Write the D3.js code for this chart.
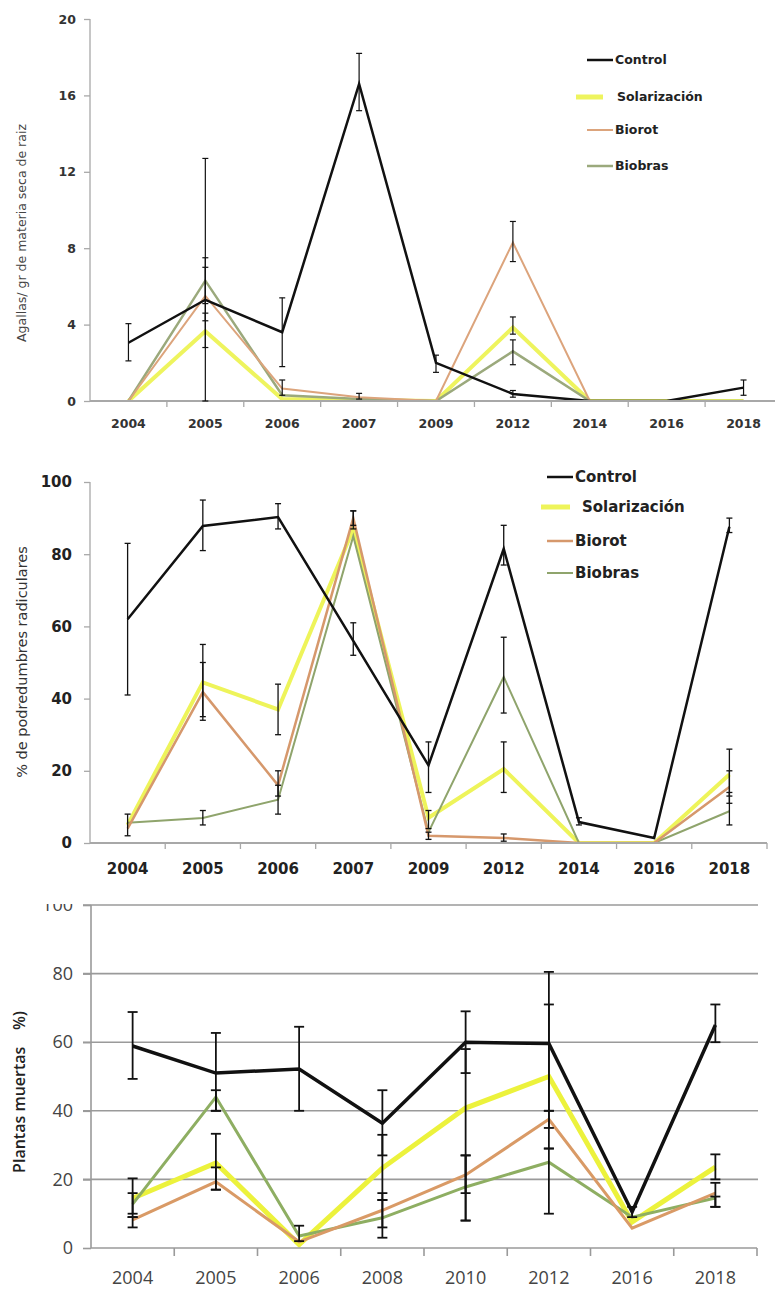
<!DOCTYPE html>
<html>
<head>
<meta charset="utf-8">
<script src="https://cdn.jsdelivr.net/npm/d3@7"></script>
<style>
  html, body { margin: 0; padding: 0; background: #fff; }
  svg { display: block; }
  text { white-space: pre; }
</style>
</head>
<body>
<div id="chart"></div>
<script>
// ---------- Panel A: galls per gram of dry root matter ----------
const yearsA = ["2004", "2005", "2006", "2007", "2009", "2012", "2014", "2016", "2018"];
const controlA = [3.05, 5.3, 3.6, 16.6, 2.0, 0.37, 0, 0, 0.7];
const solA     = [0, 3.65, 0.1, 0.05, 0, 3.85, 0, 0, 0];
const biorotA  = [0, 5.5, 0.65, 0.2, 0, 8.3, 0, 0, 0];
const biobrasA = [0, 6.3, 0.3, 0.1, 0, 2.6, 0, 0, 0];
const controlA_lo = [2.1, 0, 1.8, 15.2, 1.5, 0.2, null, null, 0.3];
const controlA_hi = [4.05, 12.7, 5.4, 18.2, 2.4, 0.55, null, null, 1.1];
const solA_lo     = [null, 2.8, null, null, null, 3.5, null, null, null];
const solA_hi     = [null, 4.6, null, null, null, 4.4, null, null, null];
const biorotA_lo  = [null, 4.2, 0.3, 0.1, null, 7.3, null, null, null];
const biorotA_hi  = [null, 7.0, 1.1, 0.4, null, 9.4, null, null, null];
const biobrasA_lo = [null, 5.1, null, null, null, 1.9, null, null, null];
const biobrasA_hi = [null, 7.5, null, null, null, 3.2, null, null, null];
const ticksA = [0, 4, 8, 12, 16, 20];

// ---------- Panel B: % root rot ----------
const yearsB = ["2004", "2005", "2006", "2007", "2009", "2012", "2014", "2016", "2018"];
const controlB = [62, 87.8, 90.3, 56, 21.5, 81.5, 5.8, 1.4, 87.6];
const solB     = [5, 44.5, 37, 87, 7, 20.5, 0, 0, 19];
const biorotB  = [4, 41.8, 16, 90, 2, 1.4, 0, 0, 15.5];
const biobrasB = [5.6, 6.9, 12, 85, 3, 46, 0, 0, 8.8];
const controlB_lo = [41, 81, 87, 52, 14, 77, 5, null, 86];
const controlB_hi = [83, 95, 94, 61, 28, 88, 7, null, 90];
const solB_lo     = [2, 35, 30, 87, 4, 14, null, null, 13];
const solB_hi     = [8, 55, 44, 92, 9, 28, null, null, 26];
const biorotB_lo  = [null, 34, 13, 88, 1, 0.5, null, null, 11];
const biorotB_hi  = [null, 50, 20, 92, 3, 2.5, null, null, 20];
const biobrasB_lo = [null, 5, 8, null, null, 36, null, null, 5];
const biobrasB_hi = [null, 9, 16, null, null, 57, null, null, 14];
const ticksB = [0, 20, 40, 60, 80, 100];

// ---------- Panel C: dead plants (%) ----------
const yearsC = ["2004", "2005", "2006", "2008", "2010", "2012", "2016", "2018"];
const controlC = [58.9, 51, 52.2, 36.4, 60, 59.6, 10.5, 65];
const solC     = [14.5, 24.8, 1, 23.3, 40.8, 50, 7.6, 23.6];
const biorotC  = [8.2, 19.3, 1.8, 11, 21.3, 37.5, 5.8, 16];
const biobrasC = [12.8, 44, 3.5, 8.8, 17.8, 25, 9, 14.6];
const controlC_lo = [49.3, 40, 40, 27, 51, 40, 9, 60];
const controlC_hi = [68.8, 62.7, 64.5, 46, 69, 80.5, 12, 71];
const solC_lo     = [10, 17, null, 14, 8, 29, null, 20];
const solC_hi     = [20.3, 33.3, null, 33, 58, 71, null, 27.3];
const biorotC_lo  = [6, 17, null, 6, 16, 35, null, 12];
const biorotC_hi  = [9, 23.5, null, 16, 27, 40, null, 19];
const biobrasC_lo = [9, 40, 2, 3, 8, 10, null, 12];
const biobrasC_hi = [16, 46, 6.5, 14, 27, 29, null, 15];
const ticksC = [0, 20, 40, 60, 80, 100];

const seriesNames = ["Control", "Solarización", "Biorot", "Biobras"];

const W = 775, H = 1290;
const svg = d3.select("#chart").append("svg")
  .attr("width", W).attr("height", H)
  .attr("viewBox", `0 0 ${W} ${H}`);
const defs = svg.append("defs");

function drawPanel(cfg) {
  const g = svg.append("g");
  if (cfg.clipTop != null) {
    const id = "clip-" + cfg.key;
    defs.append("clipPath").attr("id", id)
      .append("rect").attr("x", 0).attr("y", cfg.clipTop).attr("width", W).attr("height", H - cfg.clipTop);
    g.attr("clip-path", `url(#${id})`);
  }
  const x = d3.scaleBand().domain(cfg.years).range([cfg.x0, cfg.x1]).paddingInner(0).paddingOuter(0);
  const y = d3.scaleLinear().domain([0, cfg.yMax]).range([cfg.yBot, cfg.yTop]);
  const cx = c => x(c) + x.bandwidth() / 2;

  // plot-area clip for the series lines
  const plotId = "plot-" + cfg.key;
  defs.append("clipPath").attr("id", plotId)
    .append("rect").attr("x", cfg.x0).attr("y", cfg.yTop - 20)
    .attr("width", cfg.x1 - cfg.x0 + 10).attr("height", cfg.yBot - cfg.yTop + 20);

  // horizontal gridlines
  if (cfg.grid) {
    g.append("g").selectAll("line").data(cfg.ticks.filter(t => t > 0)).join("line")
      .attr("x1", cfg.x0 - cfg.tickLen).attr("x2", cfg.x1 + 1)
      .attr("y1", d => y(d)).attr("y2", d => y(d))
      .attr("stroke", cfg.axisColor).attr("stroke-width", cfg.axisWidth);
  }

  // y axis
  const yAxis = d3.axisLeft(y).tickValues(cfg.ticks).tickSize(cfg.tickLen).tickPadding(cfg.yPad);
  const ya = g.append("g").attr("transform", `translate(${cfg.x0},0)`).call(yAxis);
  ya.select(".domain").remove();
  ya.selectAll(".tick line").attr("stroke", cfg.axisColor).attr("stroke-width", cfg.axisWidth);
  ya.selectAll(".tick text")
    .attr("font-family", cfg.font).attr("font-size", cfg.yTickSize)
    .attr("font-weight", cfg.tickWeight).attr("fill", cfg.tickColor);
  g.append("line").attr("x1", cfg.x0).attr("x2", cfg.x0).attr("y1", cfg.yTop).attr("y2", cfg.yBot)
    .attr("stroke", cfg.axisColor).attr("stroke-width", cfg.axisWidth);

  // x tick labels and boundary ticks
  const bounds = cfg.years.slice(1).map(c => x(c)).concat([cfg.x1]);
  g.append("g").selectAll("line").data(bounds).join("line")
    .attr("x1", d => d).attr("x2", d => d)
    .attr("y1", cfg.yBot).attr("y2", cfg.yBot + cfg.tickLen)
    .attr("stroke", cfg.axisColor).attr("stroke-width", cfg.axisWidth);
  g.append("g").selectAll("text").data(cfg.years).join("text")
    .attr("x", d => cx(d)).attr("y", cfg.xLabelY)
    .attr("text-anchor", "middle")
    .attr("font-family", cfg.font).attr("font-size", cfg.xTickSize)
    .attr("font-weight", cfg.tickWeight).attr("fill", cfg.tickColor)
    .text(d => d);

  // y title
  g.append("text")
    .attr("transform", `translate(${cfg.titleX},${cfg.titleY}) rotate(-90)`)
    .attr("text-anchor", "middle").attr("dy", "0.35em")
    .attr("font-family", cfg.titleFont).attr("font-size", cfg.titleSize)
    .attr("font-weight", cfg.titleWeight).attr("fill", cfg.titleColor)
    .text(cfg.title);

  // series lines
  const line = d3.line().x((d, i) => cx(cfg.years[i])).y(d => y(d));
  const lg = g.append("g").attr("clip-path", `url(#${plotId})`);
  cfg.order.forEach(k => {
    const s = cfg.series[k];
    lg.append("path").datum(s.values)
      .attr("fill", "none").attr("stroke", s.color).attr("stroke-width", s.width)
      .attr("stroke-linejoin", "miter").attr("stroke-linecap", "butt")
      .attr("d", line);
  });

  // x axis line drawn over the series
  g.append("line").attr("x1", cfg.x0).attr("x2", cfg.x1).attr("y1", cfg.yBot).attr("y2", cfg.yBot)
    .attr("stroke", cfg.axisColor).attr("stroke-width", cfg.xAxisWidth);

  // error bars
  const eg = g.append("g").attr("stroke", "#111").attr("stroke-width", cfg.errWidth);
  cfg.order.forEach(k => {
    const s = cfg.series[k];
    cfg.years.forEach((c, i) => {
      const lo = s.lo[i], hi = s.hi[i];
      if (lo == null || hi == null) return;
      const px = cx(c);
      eg.append("line").attr("x1", px).attr("x2", px).attr("y1", y(lo)).attr("y2", y(hi));
      [lo, hi].forEach(v => {
        eg.append("line").attr("x1", px - cfg.cap / 2).attr("x2", px + cfg.cap / 2)
          .attr("y1", y(v)).attr("y2", y(v));
      });
    });
  });

  // legend
  if (cfg.legend) {
    const L = cfg.legend;
    seriesNames.forEach((name, i) => {
      const s = cfg.series[name];
      const ly = L.ys[i];
      const isSol = name === "Solarización";
      g.append("line")
        .attr("x1", isSol ? L.solX1 : L.x1).attr("x2", isSol ? L.solX2 : L.x2)
        .attr("y1", ly).attr("y2", ly)
        .attr("stroke", s.color).attr("stroke-width", isSol ? s.width + 1 : s.width);
      g.append("text")
        .attr("x", isSol ? L.solTextX : L.textX).attr("y", ly).attr("dy", "0.35em")
        .attr("font-family", L.font).attr("font-size", L.size).attr("font-weight", "bold")
        .attr("fill", "#222").text(name);
    });
  }
}

drawPanel({
  key: "a", years: yearsA, x0: 90, x1: 782, yTop: 19, yBot: 401, yMax: 20, ticks: ticksA,
  axisColor: "#a8a8a8", axisWidth: 1.3, xAxisWidth: 2.2, tickLen: 6, yPad: 8,
  font: "DejaVu Sans", tickWeight: "bold", tickColor: "#333", yTickSize: 12.5, xTickSize: 12.5,
  xLabelY: 428,
  title: "Agallas/ gr de materia seca de raiz", titleX: 22, titleY: 233,
  titleFont: "DejaVu Sans", titleSize: 12.5, titleWeight: "normal", titleColor: "#444",
  errWidth: 1.2, cap: 6,
  order: ["Solarización", "Biobras", "Biorot", "Control"],
  series: {
    "Control":      { values: controlA, lo: controlA_lo, hi: controlA_hi, color: "#111", width: 2.5 },
    "Solarización": { values: solA, lo: solA_lo, hi: solA_hi, color: "#eef45e", width: 4 },
    "Biorot":       { values: biorotA, lo: biorotA_lo, hi: biorotA_hi, color: "#dca47c", width: 2 },
    "Biobras":      { values: biobrasA, lo: biobrasA_lo, hi: biobrasA_hi, color: "#9ba97c", width: 2.5 }
  },
  legend: { x1: 587, x2: 613, solX1: 576, solX2: 603, textX: 615, solTextX: 617,
            ys: [60, 97, 130, 166], font: "DejaVu Sans", size: 12.5 }
});

drawPanel({
  key: "b", years: yearsB, x0: 90, x1: 767, yTop: 482, yBot: 843, yMax: 100, ticks: ticksB,
  axisColor: "#a8a8a8", axisWidth: 1.3, xAxisWidth: 2.2, tickLen: 6, yPad: 12,
  font: "DejaVu Sans", tickWeight: "bold", tickColor: "#222", yTickSize: 15, xTickSize: 15,
  xLabelY: 874,
  title: "% de podredumbres radiculares", titleX: 22, titleY: 662,
  titleFont: "DejaVu Sans", titleSize: 14.5, titleWeight: "normal", titleColor: "#333",
  errWidth: 1.3, cap: 6,
  order: ["Solarización", "Biobras", "Biorot", "Control"],
  series: {
    "Control":      { values: controlB, lo: controlB_lo, hi: controlB_hi, color: "#111", width: 2.5 },
    "Solarización": { values: solB, lo: solB_lo, hi: solB_hi, color: "#eef45a", width: 4 },
    "Biorot":       { values: biorotB, lo: biorotB_lo, hi: biorotB_hi, color: "#d6986c", width: 2.5 },
    "Biobras":      { values: biobrasB, lo: biobrasB_lo, hi: biobrasB_hi, color: "#8fa46c", width: 2 }
  },
  legend: { x1: 547, x2: 573, solX1: 541, solX2: 570, textX: 575, solTextX: 582,
            ys: [477, 507, 541, 573], font: "DejaVu Sans", size: 15 }
});

drawPanel({
  key: "c", years: yearsC, x0: 91, x1: 757, yTop: 905, yBot: 1248, yMax: 100, ticks: ticksC,
  clipTop: 904, grid: true,
  axisColor: "#9a9a9a", axisWidth: 1.6, xAxisWidth: 1.6, tickLen: 8, yPad: 10,
  font: "Open Sans", tickWeight: "normal", tickColor: "#444", yTickSize: 18, xTickSize: 18,
  xLabelY: 1284,
  title: "Plantas muertas    %)", titleX: 19, titleY: 1092,
  titleFont: "Open Sans", titleSize: 16, titleWeight: 600, titleColor: "#222",
  errWidth: 1.8, cap: 10,
  order: ["Solarización", "Biobras", "Biorot", "Control"],
  series: {
    "Control":      { values: controlC, lo: controlC_lo, hi: controlC_hi, color: "#111", width: 3.5 },
    "Solarización": { values: solC, lo: solC_lo, hi: solC_hi, color: "#ecf23c", width: 5 },
    "Biorot":       { values: biorotC, lo: biorotC_lo, hi: biorotC_hi, color: "#d99a66", width: 3 },
    "Biobras":      { values: biobrasC, lo: biobrasC_lo, hi: biobrasC_hi, color: "#8eae62", width: 3 }
  }
});
</script>
</body>
</html>
